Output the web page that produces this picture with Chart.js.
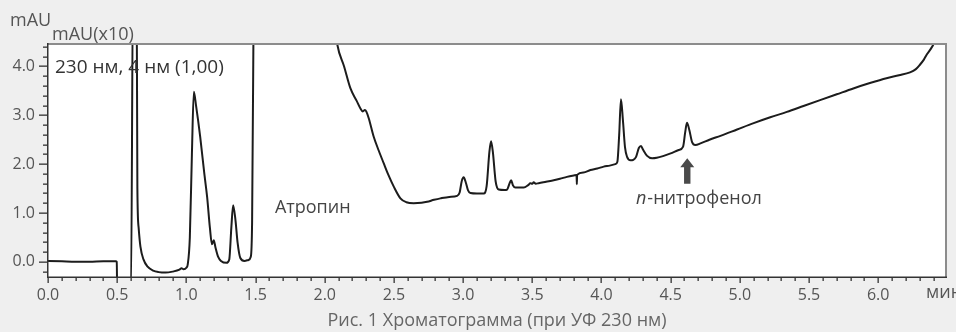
<!DOCTYPE html>
<html lang="ru">
<head>
<meta charset="utf-8">
<title>Хроматограмма</title>
<script src="https://cdn.jsdelivr.net/npm/chart.js@4.4.1/dist/chart.umd.min.js"></script>
<style>
  html, body { margin: 0; padding: 0; background: #efefef; }
  #wrap { width: 956px; height: 332px; }
  canvas { display: block; }
</style>
</head>
<body>
<div id="wrap"><canvas id="chrom" width="956" height="332"></canvas></div>
<script>
// Retention time, min
const times = [
  0.00, 0.10, 0.20, 0.30, 0.40, 0.49, 0.497, 0.500, 0.600, 0.615, 0.640, 0.646,
  0.655, 0.668, 0.690, 0.720, 0.760, 0.800, 0.850, 0.900, 0.950, 0.965, 0.980, 1.000,
  1.010, 1.025, 1.040, 1.054, 1.070, 1.100, 1.130, 1.150, 1.170, 1.185, 1.198, 1.210,
  1.230, 1.250, 1.290, 1.310, 1.325, 1.338, 1.355, 1.370, 1.390, 1.420, 1.450, 1.465,
  1.475, 1.488, 1.500, 1.800, 2.000, 2.090, 2.140, 2.186, 2.230, 2.258, 2.275, 2.290,
  2.300, 2.318, 2.354, 2.390, 2.426, 2.460, 2.499, 2.547, 2.590, 2.643, 2.700, 2.740,
  2.790, 2.836, 2.900, 2.957, 2.975, 2.990, 3.004, 3.020, 3.035, 3.053, 3.100, 3.149,
  3.170, 3.190, 3.202, 3.215, 3.235, 3.257, 3.300, 3.318, 3.335, 3.347, 3.360, 3.378,
  3.438, 3.470, 3.486, 3.500, 3.510, 3.525, 3.546, 3.600, 3.655, 3.700, 3.750, 3.800,
  3.820, 3.822, 3.824, 3.870, 3.920, 3.970, 4.016, 4.060, 4.100, 4.115, 4.128, 4.141,
  4.155, 4.170, 4.185, 4.210, 4.230, 4.250, 4.270, 4.286, 4.300, 4.330, 4.366, 4.400,
  4.450, 4.500, 4.558, 4.590, 4.605, 4.618, 4.635, 4.655, 4.678, 4.720, 4.780, 4.860,
  4.980, 5.100, 5.220, 5.340, 5.460, 5.580, 5.700, 5.820, 5.940, 6.060, 6.150, 6.230,
  6.270, 6.300, 6.330, 6.350, 6.380, 6.400, 6.430, 6.490
];

// Detector signal at 230 nm, mAU (x10)
const signal = [
  0.02, 0.01, 0.00, 0.00, 0.01, 0.01, 0.00, -0.60, -0.60, 6.00, 6.00, 1.50,
  0.70, 0.31, 0.05, -0.10, -0.18, -0.21, -0.22, -0.20, -0.16, -0.13, -0.15, -0.12,
  -0.05, 0.50, 2.20, 3.48, 3.20, 2.56, 1.80, 1.33, 0.70, 0.36, 0.44, 0.30,
  0.10, 0.02, -0.02, 0.05, 0.70, 1.16, 0.85, 0.40, 0.08, 0.02, 0.04, 0.10,
  0.80, 6.00, 9.00, 12.0, 6.50, 4.46, 4.00, 3.55, 3.30, 3.14, 3.08, 3.11,
  3.08, 2.94, 2.56, 2.28, 2.02, 1.78, 1.54, 1.30, 1.22, 1.20, 1.21, 1.23,
  1.27, 1.30, 1.33, 1.35, 1.42, 1.65, 1.73, 1.62, 1.47, 1.41, 1.40, 1.40,
  1.55, 2.25, 2.47, 2.25, 1.65, 1.48, 1.47, 1.48, 1.60, 1.67, 1.57, 1.52,
  1.52, 1.57, 1.61, 1.60, 1.63, 1.60, 1.61, 1.64, 1.67, 1.70, 1.74, 1.77,
  1.78, 1.59, 1.78, 1.83, 1.88, 1.91, 1.95, 1.97, 2.00, 2.05, 2.60, 3.33,
  2.90, 2.35, 2.15, 2.08, 2.09, 2.15, 2.33, 2.37, 2.30, 2.17, 2.12, 2.13,
  2.17, 2.22, 2.29, 2.36, 2.65, 2.85, 2.70, 2.45, 2.39, 2.43, 2.50, 2.58,
  2.71, 2.84, 2.96, 3.07, 3.19, 3.31, 3.43, 3.55, 3.66, 3.76, 3.82, 3.88,
  3.94, 4.03, 4.14, 4.24, 4.36, 4.46, 4.70, 5.20
];

// Labelled major ticks
const xTickValues = [0.0, 0.5, 1.0, 1.5, 2.0, 2.5, 3.0, 3.5, 4.0, 4.5, 5.0, 5.5, 6.0];
const xTickLabels = ['0.0', '0.5', '1.0', '1.5', '2.0', '2.5', '3.0', '3.5', '4.0', '4.5', '5.0', '5.5', '6.0'];
const yTickValues = [0.0, 1.0, 2.0, 3.0, 4.0];
const yTickLabels = ['0.0', '1.0', '2.0', '3.0', '4.0'];

// Peak annotations
const atropineLabel = { text: 'Атропин', x: 1.64, y: 1.10 };
const nitrophenolPeak = { time: 4.62 };

const FONT = '"Open Sans", "Noto Sans", "DejaVu Sans", sans-serif';
const AXIS_COLOR = '#333333';
const TEXT_COLOR = '#555555';

function majorIndex(values, v) {
  for (let i = 0; i < values.length; i++) {
    if (Math.abs(values[i] - v) < 1e-6) return i;
  }
  return -1;
}

const points = times.map((t, i) => ({ x: t, y: signal[i] }));

// Paints the backgrounds, axis lines, tick marks, frame and text annotations
const decorPlugin = {
  id: 'decor',
  beforeDraw(chart) {
    const { ctx, chartArea: a, width, height } = chart;
    ctx.save();
    ctx.fillStyle = '#efefef';
    ctx.fillRect(0, 0, width, height);
    ctx.fillStyle = '#ffffff';
    ctx.fillRect(a.left, a.top, a.right - a.left, a.bottom - a.top);
    ctx.restore();
  },
  afterDraw(chart) {
    const { ctx, chartArea: a } = chart;
    const xs = chart.scales.x;
    const ys = chart.scales.y;
    ctx.save();

    // frame on top and right
    ctx.fillStyle = '#8c8c8c';
    ctx.fillRect(a.left, a.top - 1, a.right - a.left + 1, 2);
    ctx.fillRect(a.right - 1, a.top - 1, 2, a.bottom - a.top + 1);

    // axis lines
    ctx.fillStyle = AXIS_COLOR;
    ctx.fillRect(a.left - 1, a.top - 1, 1.5, a.bottom - a.top + 2);
    ctx.fillRect(a.left - 1, a.bottom - 0.5, a.right - a.left + 2, 1.5);

    // tick marks
    xs.ticks.forEach(t => {
      const px = Math.round(xs.getPixelForValue(t.value));
      const len = majorIndex(xTickValues, t.value) >= 0 ? 6 : 4;
      ctx.fillRect(px - 0.5, a.bottom, 1.3, len);
    });
    ys.ticks.forEach(t => {
      const py = Math.round(ys.getPixelForValue(t.value));
      const len = majorIndex(yTickValues, t.value) >= 0 ? 9 : 5;
      ctx.fillRect(a.left - len, py - 0.5, len, 1.3);
    });

    // axis units
    ctx.fillStyle = TEXT_COLOR;
    ctx.font = '18px ' + FONT;
    ctx.textBaseline = 'middle';
    ctx.textAlign = 'left';
    ctx.fillText('mAU', 10, 21);
    ctx.fillText('mAU(x10)', 52, 35);
    ctx.fillText('мин', 926, 293);

    // caption
    ctx.fillStyle = '#666666';
    ctx.font = '18px ' + FONT;
    ctx.textAlign = 'center';
    ctx.fillText('Рис. 1 Хроматограмма (при УФ 230 нм)', 497, 321);

    // wavelength note
    ctx.fillStyle = '#333333';
    ctx.font = '19px ' + FONT;
    ctx.textAlign = 'left';
    ctx.fillText('230 нм, 4 нм (1,00)', 55, 68);

    // atropine
    ctx.fillStyle = '#444444';
    ctx.font = '18px ' + FONT;
    ctx.fillText(atropineLabel.text, xs.getPixelForValue(atropineLabel.x), ys.getPixelForValue(atropineLabel.y));

    // p-nitrophenol arrow and label
    const ax = xs.getPixelForValue(nitrophenolPeak.time);
    const tipY = ys.getPixelForValue(2.12);
    const baseY = ys.getPixelForValue(1.60);
    ctx.fillStyle = '#4a4a4a';
    ctx.beginPath();
    ctx.moveTo(ax, tipY);
    ctx.lineTo(ax + 7, tipY + 9);
    ctx.lineTo(ax + 3.2, tipY + 9);
    ctx.lineTo(ax + 3.2, baseY);
    ctx.lineTo(ax - 3.2, baseY);
    ctx.lineTo(ax - 3.2, tipY + 9);
    ctx.lineTo(ax - 7, tipY + 9);
    ctx.closePath();
    ctx.fill();

    ctx.fillStyle = '#444444';
    const ly = 199;
    const lx = 636;
    ctx.font = 'italic 18px ' + FONT;
    ctx.fillText('п', lx, ly);
    const w = ctx.measureText('п').width;
    ctx.font = '18px ' + FONT;
    ctx.fillText('-нитрофенол', lx + w + 1, ly);

    ctx.restore();
  }
};

new Chart(document.getElementById('chrom'), {
  type: 'line',
  data: {
    datasets: [{
      data: points,
      borderColor: '#1c1c1c',
      borderWidth: 2,
      pointRadius: 0,
      fill: false,
      cubicInterpolationMode: 'monotone'
    }]
  },
  options: {
    responsive: false,
    animation: false,
    devicePixelRatio: 1,
    layout: { padding: { left: 0, right: 10, top: 44, bottom: 0 } },
    plugins: { legend: { display: false }, tooltip: { enabled: false } },
    scales: {
      x: {
        type: 'linear',
        min: 0,
        max: 6.49,
        afterFit(scale) { scale.height = 55; },
        border: { display: false },
        grid: { display: false, drawTicks: false },
        ticks: {
          stepSize: 0.1,
          includeBounds: false,
          autoSkip: false,
          maxRotation: 0,
          padding: 9,
          color: TEXT_COLOR,
          font: { family: FONT, size: 16 },
          callback(v) {
            const i = majorIndex(xTickValues, v);
            return i >= 0 ? xTickLabels[i] : '';
          }
        }
      },
      y: {
        type: 'linear',
        min: -0.31,
        max: 4.46,
        afterFit(scale) { scale.width = 48; },
        border: { display: false },
        grid: { display: false, drawTicks: false },
        ticks: {
          stepSize: 0.2,
          includeBounds: false,
          autoSkip: false,
          padding: 13,
          color: TEXT_COLOR,
          font: { family: FONT, size: 16 },
          callback(v) {
            const i = majorIndex(yTickValues, v);
            return i >= 0 ? yTickLabels[i] : '';
          }
        }
      }
    }
  },
  plugins: [decorPlugin]
});
</script>
</body>
</html>
